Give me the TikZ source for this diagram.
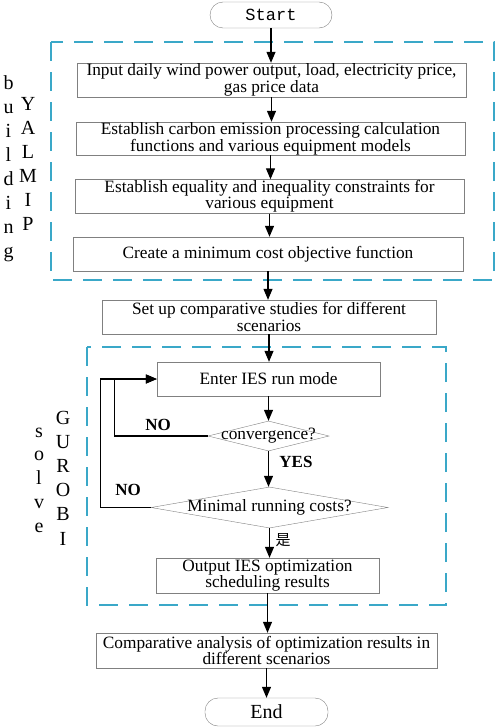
\documentclass[tikz,border=0pt]{standalone}
\usepackage{fontspec}
\setmainfont{Liberation Serif}
\newfontfamily\startfont{Liberation Mono}
\newfontfamily\cjkfont{Noto Sans CJK SC}
\usetikzlibrary{arrows.meta,shapes.geometric}
\definecolor{frameblue}{RGB}{58,168,200}

\begin{document}
\begin{tikzpicture}[x=1pt,y=-1pt,
  stepbox/.style={draw=gray, thin, rectangle, inner sep=0pt, align=center, font=\fontsize{17.3}{13}\selectfont},
  decide/.style={draw=gray, thin, diamond, inner sep=0pt, font=\fontsize{17.3}{13}\selectfont},
  term/.style={draw=gray, thin, rounded corners=13pt, minimum width=122, minimum height=26, inner sep=0pt},
  flow/.style={-{Triangle[length=11pt,width=9pt]}, line width=1.1pt},
  group/.style={frameblue, line width=2pt, dash pattern=on 19pt off 11pt},
  vtext/.style={font=\fontsize{20}{24}\selectfont, anchor=base},
  tag/.style={font=\fontsize{17}{17}\bfseries\selectfont}]

\useasboundingbox (0,0) rectangle (498,728);

% groups
\draw[group] (51,42) rectangle (494,280);
\draw[group] (87,347) rectangle (446,605);

% steps
\node[term, font=\startfont\fontsize{17}{17}\selectfont] (start) at (271,15) {Start};
\node[stepbox, minimum width=389, minimum height=34] (data) at (271.5,80)
  {Input daily wind power output, load, electricity price,\\gas price data};
\node[stepbox, minimum width=389, minimum height=33] (carbon) at (270.5,138.5)
  {Establish carbon emission processing calculation\\functions and various equipment models};
\node[stepbox, minimum width=389, minimum height=34] (constr) at (269.5,196.5)
  {Establish equality and inequality constraints for\\various equipment};
\node[stepbox, minimum width=390, minimum height=34] (objfun) at (268,254)
  {Create a minimum cost objective function};
\node[stepbox, minimum width=334, minimum height=34] (scen) at (269,317)
  {Set up comparative studies for different\\scenarios};
\node[stepbox, minimum width=223, minimum height=34] (runmode) at (268.5,379)
  {Enter IES run mode};
\node[decide, minimum width=121, minimum height=30] (conv) at (268.5,436)
  {\makebox[0pt]{convergence?}};
\node[decide, minimum width=237, minimum height=41] (cost) at (269.5,507.5)
  {\makebox[0pt]{Minimal running costs?}};
\node[stepbox, minimum width=223, minimum height=35] (result) at (267.5,575.5)
  {Output IES optimization\\scheduling results};
\node[stepbox, minimum width=341, minimum height=35] (compare) at (266.5,650.5)
  {Comparative analysis of optimization results in\\different scenarios};
\node[term, minimum width=123, minimum height=28, font=\fontsize{20}{20}\selectfont] (end) at (266.5,712) {End};

% arrows
\draw[flow] (start.south) -- (start.south |- data.north);
\draw[flow] (data.south) -- (data.south |- carbon.north);
\draw[flow] (carbon.south) -- (carbon.south |- constr.north);
\draw[flow] (constr.south) -- (constr.south |- objfun.north);
\draw[flow] (objfun.south) -- (objfun.south |- scen.north);
\draw[flow] (scen.south) -- (scen.south |- runmode.north);
\draw[flow] (runmode.south) -- (runmode.south |- conv.north);
\draw[flow] (conv.south) -- (conv.south |- cost.north);
\draw[flow] (cost.south) -- (cost.south |- result.north);
\draw[flow] (result.south) -- (result.south |- compare.north);
\draw[flow] (compare.south) -- (compare.south |- end.north);

\draw[flow] (conv.west) -- ++(-93,0) |- (runmode.west);
\draw[flow] (cost.west) -- ++(-50,0) |- (runmode.west);

% labels
\node[tag] (no1) at (158,425) {NO};
\node[tag] (no2) at (128,490) {NO};
\node[tag] (yes) at (296,462) {YES};
\node[font=\cjkfont\fontsize{15}{15}\selectfont] (shi) at (283,540) {是};

\foreach \c [count=\i] in {b,u,i,l,d,i,n,g}
  \node[vtext] (bl\i) at (8.5,89+24*\i-24) {\c};
\foreach \c [count=\i] in {Y,A,L,M,I,P}
  \node[vtext] (ya\i) at (28,110+24*\i-24) {\c};
\foreach \c [count=\i] in {s,o,l,v,e}
  \node[vtext] (so\i) at (39,437+23.75*\i-23.75) {\c};
\foreach \c [count=\i] in {G,U,R,O,B,I}
  \node[vtext] (gu\i) at (63,424+24.2*\i-24.2) {\c};

\end{tikzpicture}
\end{document}
